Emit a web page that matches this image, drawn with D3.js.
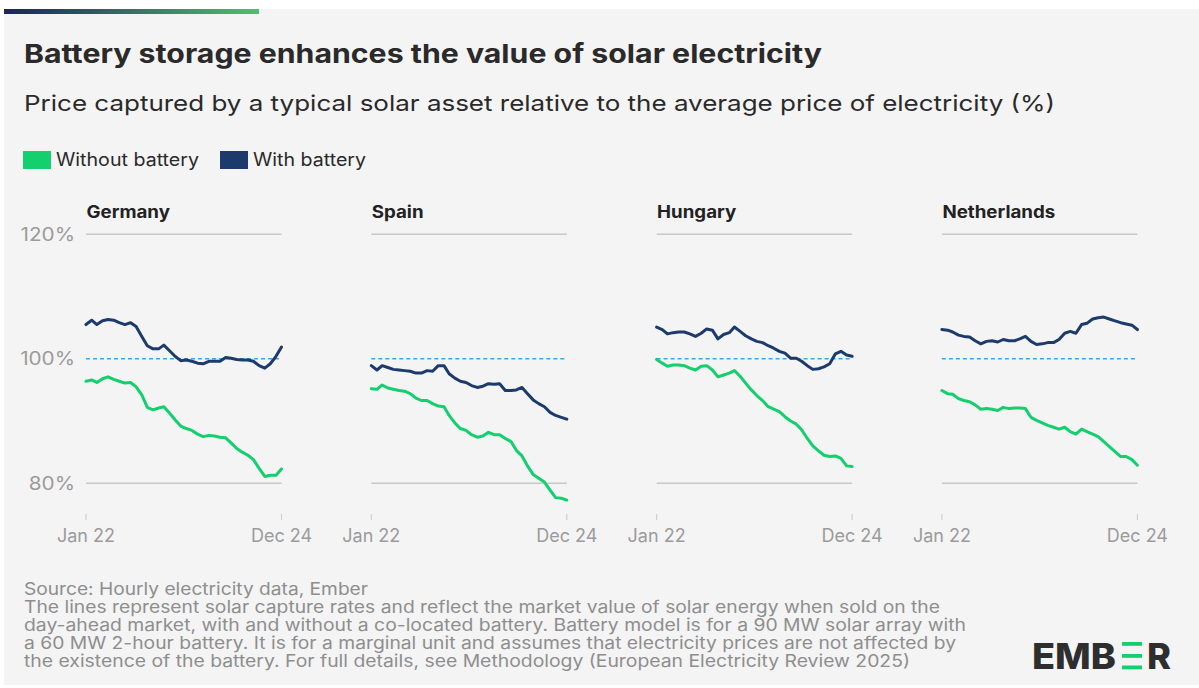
<!DOCTYPE html>
<html>
<head>
<meta charset="utf-8">
<script src="https://cdn.jsdelivr.net/npm/d3@7"></script>
<style>
  body { margin: 0; background: #fff; }
  text { font-family: Inter, "Noto Sans", sans-serif; }
</style>
</head>
<body>
<div class="chart"></div>
<script>
// values, monthly Jan 22 .. Dec 24
const countries = ["Germany", "Spain", "Hungary", "Netherlands"]
const germanyWithout = [96.4,96.6,96.2,96.8,97.1,96.7,96.4,96.1,96.2,95.5,94.2,92.2,91.8,92.1,92.3,91.3,90.2,89.2,88.8,88.5,87.9,87.5,87.7,87.6,87.4,87.3,86.5,85.6,85.0,84.5,83.8,82.4,81.1,81.3,81.3,82.3]
const germanyWith = [105.5,106.2,105.5,106.1,106.3,106.2,105.8,105.5,105.8,105.2,103.6,102.1,101.6,101.6,102.2,101.3,100.4,99.7,99.8,99.6,99.3,99.2,99.6,99.6,99.6,100.2,100.1,99.9,99.8,99.8,99.6,98.9,98.5,99.2,100.4,101.9]
const spainWithout = [95.2,95.1,95.8,95.3,95.1,94.9,94.8,94.4,93.7,93.3,93.3,92.8,92.4,92.3,90.9,89.7,88.8,88.5,87.8,87.4,87.6,88.2,87.8,87.8,87.2,86.7,85.3,84.4,82.8,81.4,80.8,80.2,78.9,77.7,77.6,77.3]
const spainWith = [98.9,98.2,98.9,98.6,98.3,98.2,98.1,98.0,97.7,97.7,98.1,98.0,98.9,98.9,97.6,96.9,96.4,96.2,95.7,95.4,95.6,96.0,95.9,96.0,94.9,94.9,95.0,95.4,94.4,93.4,92.8,92.3,91.4,90.9,90.6,90.3]
const hungaryWithout = [99.9,99.3,98.8,99.0,99.0,98.9,98.5,98.2,98.8,98.9,98.2,97.1,97.4,97.7,98.1,97.2,96.1,95.0,94.1,93.3,92.3,91.9,91.5,90.7,90.0,89.5,88.6,87.2,86.0,85.2,84.5,84.3,84.4,84.0,82.8,82.7]
const hungaryWith = [105.1,104.7,104.0,104.2,104.3,104.3,104.0,103.6,104.1,104.8,104.6,103.2,103.9,104.2,105.1,104.4,103.7,103.2,102.8,102.6,102.1,101.7,101.2,100.9,100.1,100.1,99.6,98.9,98.3,98.4,98.7,99.2,100.8,101.2,100.6,100.4]
const netherlandsWithout = [94.9,94.4,94.3,93.6,93.3,93.1,92.6,91.9,92.0,91.9,91.7,92.2,92.0,92.1,92.1,92.0,90.6,90.1,89.7,89.3,89.0,88.7,89.0,88.3,87.9,88.7,88.3,87.9,87.5,86.7,85.9,85.1,84.3,84.3,83.8,82.9]
const netherlandsWith = [104.7,104.6,104.3,103.8,103.6,103.5,102.9,102.4,102.8,102.9,102.7,103.1,102.9,102.9,103.2,103.6,102.8,102.3,102.4,102.6,102.6,103.1,104.1,104.4,104.1,105.5,105.7,106.4,106.6,106.7,106.4,106.1,105.8,105.6,105.4,104.7]
const seriesNames = ["Without battery", "With battery"]
const yTicks = [80, 100, 120]
const xTickLabels = ["Jan 22", "Dec 24"]
const footerLines = [
  "Source: Hourly electricity data, Ember",
  "The lines represent solar capture rates and reflect the market value of solar energy when sold on the",
  "day-ahead market, with and without a co-located battery. Battery model is for a 90 MW solar array with",
  "a 60 MW 2-hour battery. It is for a marginal unit and assumes that electricity prices are not affected by",
  "the existence of the battery. For full details, see Methodology (European Electricity Review 2025)"
]

const panels = [
  {name: "Germany", without: germanyWithout, with: germanyWith},
  {name: "Spain", without: spainWithout, with: spainWith},
  {name: "Hungary", without: hungaryWithout, with: hungaryWith},
  {name: "Netherlands", without: netherlandsWithout, with: netherlandsWith}
]
const months = d3.timeMonths(new Date(2022, 0, 1), new Date(2025, 0, 1))

const W = 1199, H = 688
const svg = d3.select(".chart").append("svg").attr("width", W).attr("height", H)

// the original font is wider than Inter, stretch the glyphs a bit
function widen(sel, f) {
  sel.each(function() {
    const len = this.getComputedTextLength()
    d3.select(this).attr("textLength", len * f).attr("lengthAdjust", "spacingAndGlyphs")
  })
}

// background + top accent bar
svg.append("rect").attr("x", 4).attr("y", 9).attr("width", W - 4).attr("height", 676).attr("fill", "#f4f4f4")
const grad = svg.append("defs").append("linearGradient").attr("id", "topbar")
grad.append("stop").attr("offset", "0%").attr("stop-color", "#1b2456")
grad.append("stop").attr("offset", "100%").attr("stop-color", "#4cc072")
svg.append("rect").attr("x", 4).attr("y", 9).attr("width", 255).attr("height", 5).attr("fill", "url(#topbar)")

// titles
svg.append("text").attr("x", 24).attr("y", 63).attr("font-size", 26).attr("font-weight", 700)
  .attr("fill", "#2a2a2a").attr("textLength", 798).attr("lengthAdjust", "spacingAndGlyphs")
  .text("Battery storage enhances the value of solar electricity")
svg.append("text").attr("x", 24).attr("y", 111).attr("font-size", 22).attr("fill", "#2a2a2a")
  .attr("textLength", 1031).attr("lengthAdjust", "spacingAndGlyphs")
  .text("Price captured by a typical solar asset relative to the average price of electricity (%)")

const color = d3.scaleOrdinal().domain(seriesNames).range(["#13cf6e", "#1c3b6c"])

// legend
const legendX = [23, 220]
const legendW = [143, 113]
const legend = svg.append("g").attr("class", "legend")
legend.selectAll("rect").data(seriesNames).join("rect")
  .attr("x", (d, i) => legendX[i]).attr("y", 151).attr("width", 28).attr("height", 18)
  .attr("fill", d => color(d))
legend.selectAll("text").data(seriesNames).join("text")
  .attr("x", (d, i) => legendX[i] + 33).attr("y", 166).attr("font-size", 18).attr("fill", "#2a2a2a")
  .attr("textLength", (d, i) => legendW[i]).attr("lengthAdjust", "spacingAndGlyphs")
  .text(d => d)

// small multiples
const plotW = 195.5
const panelStep = 285.3
const y = d3.scaleLinear().domain([80, 120]).range([483.3, 234.3])
const x = d3.scaleTime().domain(d3.extent(months)).range([0, plotW])

panels.forEach((p, k) => {
  const g = svg.append("g").attr("transform", `translate(${86 + k * panelStep},0)`)

  g.append("text").attr("x", 0.5).attr("y", 218).attr("font-size", 17).attr("font-weight", 700)
    .attr("fill", "#222").text(p.name).call(widen, 1.1)

  g.selectAll(".grid").data([80, 120]).join("line").attr("class", "grid")
    .attr("x1", 0).attr("x2", plotW).attr("y1", d => y(d)).attr("y2", d => y(d))
    .attr("stroke", "#c8c8c8").attr("stroke-width", 1.5)

  if (k === 0) {
    g.selectAll(".ylab").data(yTicks).join("text").attr("class", "ylab")
      .attr("x", -11).attr("y", d => y(d)).attr("dy", "0.36em").attr("text-anchor", "end")
      .attr("font-size", 18).attr("fill", "#9b9b9b").text(d => d + "%").call(widen, 1.15)
  }

  // x axis: only first and last month
  const xTicks = [months[0], months[months.length - 1]]
  g.selectAll(".xtick").data(xTicks).join("line").attr("class", "xtick")
    .attr("x1", d => x(d)).attr("x2", d => x(d)).attr("y1", 514).attr("y2", 520)
    .attr("stroke", "#cfcfcf").attr("stroke-width", 1.2)
  g.selectAll(".xlab").data(xTicks).join("text").attr("class", "xlab")
    .attr("x", d => x(d)).attr("y", 542).attr("text-anchor", "middle")
    .attr("font-size", 18).attr("fill", "#9b9b9b").text((d, i) => xTickLabels[i])

  g.append("line").attr("x1", 0).attr("x2", plotW).attr("y1", y(100)).attr("y2", y(100))
    .attr("stroke", "#3aa7e6").attr("stroke-width", 1.6).attr("stroke-dasharray", "4,3")

  const line = d3.line().x((d, i) => x(months[i])).y(d => y(d))
  g.selectAll(".series").data([p.without, p.with]).join("path").attr("class", "series")
    .attr("d", d => line(d)).attr("fill", "none")
    .attr("stroke", (d, i) => color(seriesNames[i])).attr("stroke-width", 3)
    .attr("stroke-linejoin", "round").attr("stroke-linecap", "round")
})

// footer
const footerW = [344, 916, 942, 932, 886]
svg.append("g").selectAll("text").data(footerLines).join("text")
  .attr("x", 24).attr("y", (d, i) => 595 + i * 18).attr("font-size", 17).attr("fill", "#8e8e8e")
  .attr("textLength", (d, i) => footerW[i]).attr("lengthAdjust", "spacingAndGlyphs")
  .text(d => d)

// logo
const logo = svg.append("g")
logo.append("text").attr("x", 1032).attr("y", 669).attr("font-size", 36).attr("font-weight", 800)
  .attr("fill", "#2e2e2e").attr("textLength", 84).attr("lengthAdjust", "spacingAndGlyphs").text("EMB")
logo.selectAll("rect").data([642, 654, 665.5]).join("rect")
  .attr("x", 1122).attr("y", d => d).attr("width", 20).attr("height", 3.8).attr("fill", "#13cf6e")
logo.append("text").attr("x", 1147).attr("y", 669).attr("font-size", 36).attr("font-weight", 800)
  .attr("fill", "#2e2e2e").attr("textLength", 24).attr("lengthAdjust", "spacingAndGlyphs").text("R")
</script>
</body>
</html>
